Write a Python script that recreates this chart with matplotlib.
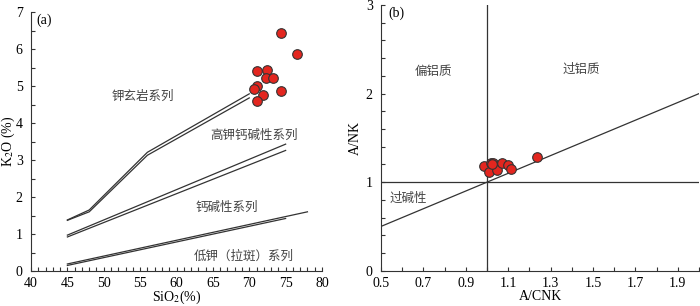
import matplotlib
matplotlib.use('Agg')
import matplotlib.pyplot as plt
from matplotlib.ticker import MultipleLocator

plt.rcParams['font.family'] = ['Liberation Serif', 'Noto Sans CJK SC']
plt.rcParams['mathtext.fontset'] = 'stix'

# (a) SiO2 - K2O
sio2 = [74.4, 76.6, 71.1, 72.5, 72.3, 73.2, 71.1, 70.7, 74.4, 71.9, 71.0]
k2o = [6.44, 5.88, 5.41, 5.43, 5.23, 5.22, 5.00, 4.92, 4.86, 4.75, 4.60]

# boundary lines (double)
sho_x = [45, 48, 56, 70]
sho_y1 = [1.38, 1.65, 3.21, 4.79]
sho_y2 = [1.37, 1.60, 3.13, 4.68]
hk_x = [45, 75]
hk_y1 = [0.97, 3.43]
hk_y2 = [0.92, 3.26]
lk_x1 = [45, 78]
lk_y1 = [0.19, 1.60]
lk_x2 = [45, 75]
lk_y2 = [0.15, 1.42]

series_labels = ['钾玄岩系列', '高钾钙碱性系列', '钙碱性系列', '低钾（拉斑）系列']
series_pos = [(55.4, 4.73), (70.7, 3.68), (66.9, 1.72), (69.2, 0.39)]

# (b) A/CNK - A/NK
acnk = [0.986, 1.009, 1.020, 1.028, 1.047, 1.069, 1.100, 1.115, 1.237, 1.025]
anK = [1.186, 1.110, 1.215, 1.220, 1.137, 1.220, 1.190, 1.148, 1.283, 1.205]
field_labels = ['偏铝质', '过铝质', '过碱性']
field_pos = [(0.745, 2.25), (1.447, 2.27), (0.63, 0.82)]

line_c = '#333333'
txt_c = '#444444'
dot_c = '#e3261f'

fig = plt.figure(figsize=(7, 3.06), dpi=100)
ax1 = fig.add_axes([0.0443, 0.1144, 0.4157, 0.846])
ax2 = fig.add_axes([0.5443, 0.1154, 0.4543, 0.868])

for ax in (ax1, ax2):
    ax.spines['top'].set_visible(False)
    ax.spines['right'].set_visible(False)
    ax.spines['left'].set_color(line_c)
    ax.spines['bottom'].set_color(line_c)
    ax.tick_params(which='both', direction='in', length=3, width=0.8, color=line_c,
                   labelsize=10, pad=6)
    ax.tick_params(axis='x', which='both', pad=4.5)

# left panel
for x, y in [(sho_x, sho_y1), (sho_x, sho_y2), (hk_x, hk_y1), (hk_x, hk_y2),
             (lk_x1, lk_y1), (lk_x2, lk_y2)]:
    ax1.plot(x, y, color=line_c, lw=0.9)
ax1.scatter(sio2, k2o, s=48, color=dot_c, edgecolor='#333333', linewidth=0.8, zorder=3)
for lab, (x, y) in zip(series_labels, series_pos):
    ax1.text(x, y, lab, ha='center', va='center', fontsize=9, color=txt_c,
             family=['Noto Sans CJK SC'])
ax1.text(40.8, 6.95, '(a)', ha='left', va='top', fontsize=10)
ax1.set_xlim(40, 80)
ax1.set_ylim(0, 7)
ax1.xaxis.set_major_locator(MultipleLocator(5))
ax1.xaxis.set_minor_locator(MultipleLocator(1))
ax1.yaxis.set_major_locator(MultipleLocator(1))
ax1.yaxis.set_minor_locator(MultipleLocator(0.5))
ax1.set_xlabel('SiO$_2$(%)', fontsize=10, labelpad=-1)
ax1.set_ylabel('K$_2$O (%)', fontsize=10, labelpad=-1)

# right panel
ax2.plot([0.5, 2.0], [0.5, 2.0], color=line_c, lw=0.9)
ax2.axvline(1.0, color=line_c, lw=0.9)
ax2.axhline(1.0, color=line_c, lw=0.9)
ax2.scatter(acnk, anK, s=48, color=dot_c, edgecolor='#333333', linewidth=0.8, zorder=3)
for lab, (x, y) in zip(field_labels, field_pos):
    ax2.text(x, y, lab, ha='center', va='center', fontsize=9, color=txt_c,
             family=['Noto Sans CJK SC'])
ax2.text(0.535, 2.98, '(b)', ha='left', va='top', fontsize=10)
ax2.set_xlim(0.5, 2.0)
ax2.set_ylim(0, 3)
ax2.set_xticks([0.5, 0.7, 0.9, 1.1, 1.3, 1.5, 1.7, 1.9])
ax2.xaxis.set_minor_locator(MultipleLocator(0.1))
ax2.yaxis.set_major_locator(MultipleLocator(1))
ax2.yaxis.set_minor_locator(MultipleLocator(0.2))
ax2.set_xlabel('A/CNK', fontsize=10, labelpad=0)
ax2.set_ylabel('A/NK', fontsize=10, labelpad=3)

fig.savefig('out.png', dpi=100)
